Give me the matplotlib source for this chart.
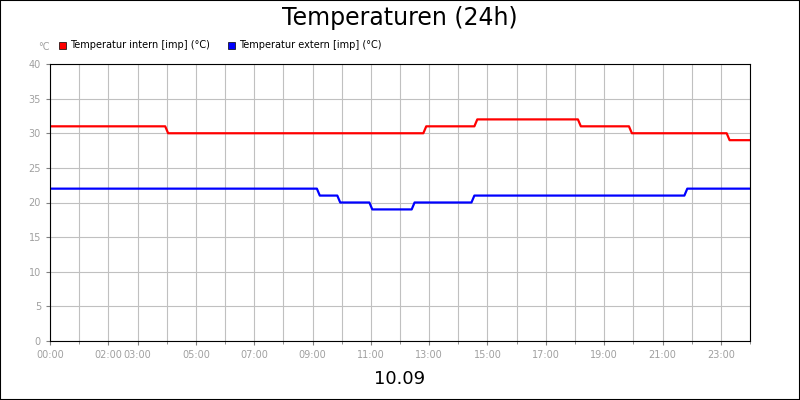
import matplotlib
matplotlib.use("Agg")
import matplotlib.pyplot as plt
from matplotlib.patches import Rectangle

# hours since 00:00, values in °C
t_intern = [0, 3.95, 4.05, 12.8, 12.9, 14.55, 14.65, 18.1, 18.2, 19.85, 19.95, 23.2, 23.3, 24]
v_intern = [31, 31, 30, 30, 31, 31, 32, 32, 31, 31, 30, 30, 29, 29]
t_extern = [0, 9.15, 9.25, 9.85, 9.95, 10.95, 11.05, 12.4, 12.5, 14.45, 14.55, 21.75, 21.85, 24]
v_extern = [22, 22, 21, 21, 20, 20, 19, 19, 20, 20, 21, 21, 22, 22]
tick_hours = [0, 2, 3, 5, 7, 9, 11, 13, 15, 17, 19, 21, 23]
tick_labels = ["00:00", "02:00", "03:00", "05:00", "07:00", "09:00", "11:00",
               "13:00", "15:00", "17:00", "19:00", "21:00", "23:00"]
y_ticks = [0, 5, 10, 15, 20, 25, 30, 35, 40]

fig = plt.figure(figsize=(8, 4), dpi=100)
fig.patches.append(Rectangle((0, 0), 1, 1, transform=fig.transFigure, fill=False,
                             edgecolor="black", linewidth=1.5))
ax = fig.add_axes([50/800, 1-341/400, 700/800, 277/400])
ax.set_xlim(0, 24)
ax.set_ylim(0, 40)
ax.set_xticks(range(25), minor=True)
ax.set_xticks(tick_hours)
ax.set_xticklabels(tick_labels)
ax.set_yticks(y_ticks)
ax.grid(True, which="both", axis="x", color="#c0c0c0", linewidth=0.8)
ax.grid(True, which="major", axis="y", color="#c0c0c0", linewidth=0.8)
ax.set_axisbelow(True)
ax.tick_params(axis="both", which="both", labelsize=7, labelcolor="#a0a0a0",
               color="#808080", length=3)
ax.tick_params(axis="x", which="minor", length=2)
for s in ax.spines.values():
    s.set_color("black")
    s.set_linewidth(0.8)
ax.plot(t_intern, v_intern, color="#ff0000", linewidth=1.6)
ax.plot(t_extern, v_extern, color="#0000ff", linewidth=1.6)

fig.text(0.5, 1-18/400, "Temperaturen (24h)", ha="center", va="center", fontsize=17)
fig.text(0.5, 1-379/400, "10.09", ha="center", va="center", fontsize=13)
fig.text(38/800, 1-47/400, "°C", ha="left", va="center", fontsize=7, color="#a0a0a0")
fig.patches.append(Rectangle((59/800, 1-49/400), 7/800, 7/400, transform=fig.transFigure,
                             facecolor="#ff0000", edgecolor="black", linewidth=0.5))
fig.text(70/800, 1-45/400, "Temperatur intern [imp] (°C)", fontsize=7, va="center")
fig.patches.append(Rectangle((228/800, 1-49/400), 7/800, 7/400, transform=fig.transFigure,
                             facecolor="#0000ff", edgecolor="black", linewidth=0.5))
fig.text(239/800, 1-45/400, "Temperatur extern [imp] (°C)", fontsize=7, va="center")

fig.savefig("out.png", dpi=100)
